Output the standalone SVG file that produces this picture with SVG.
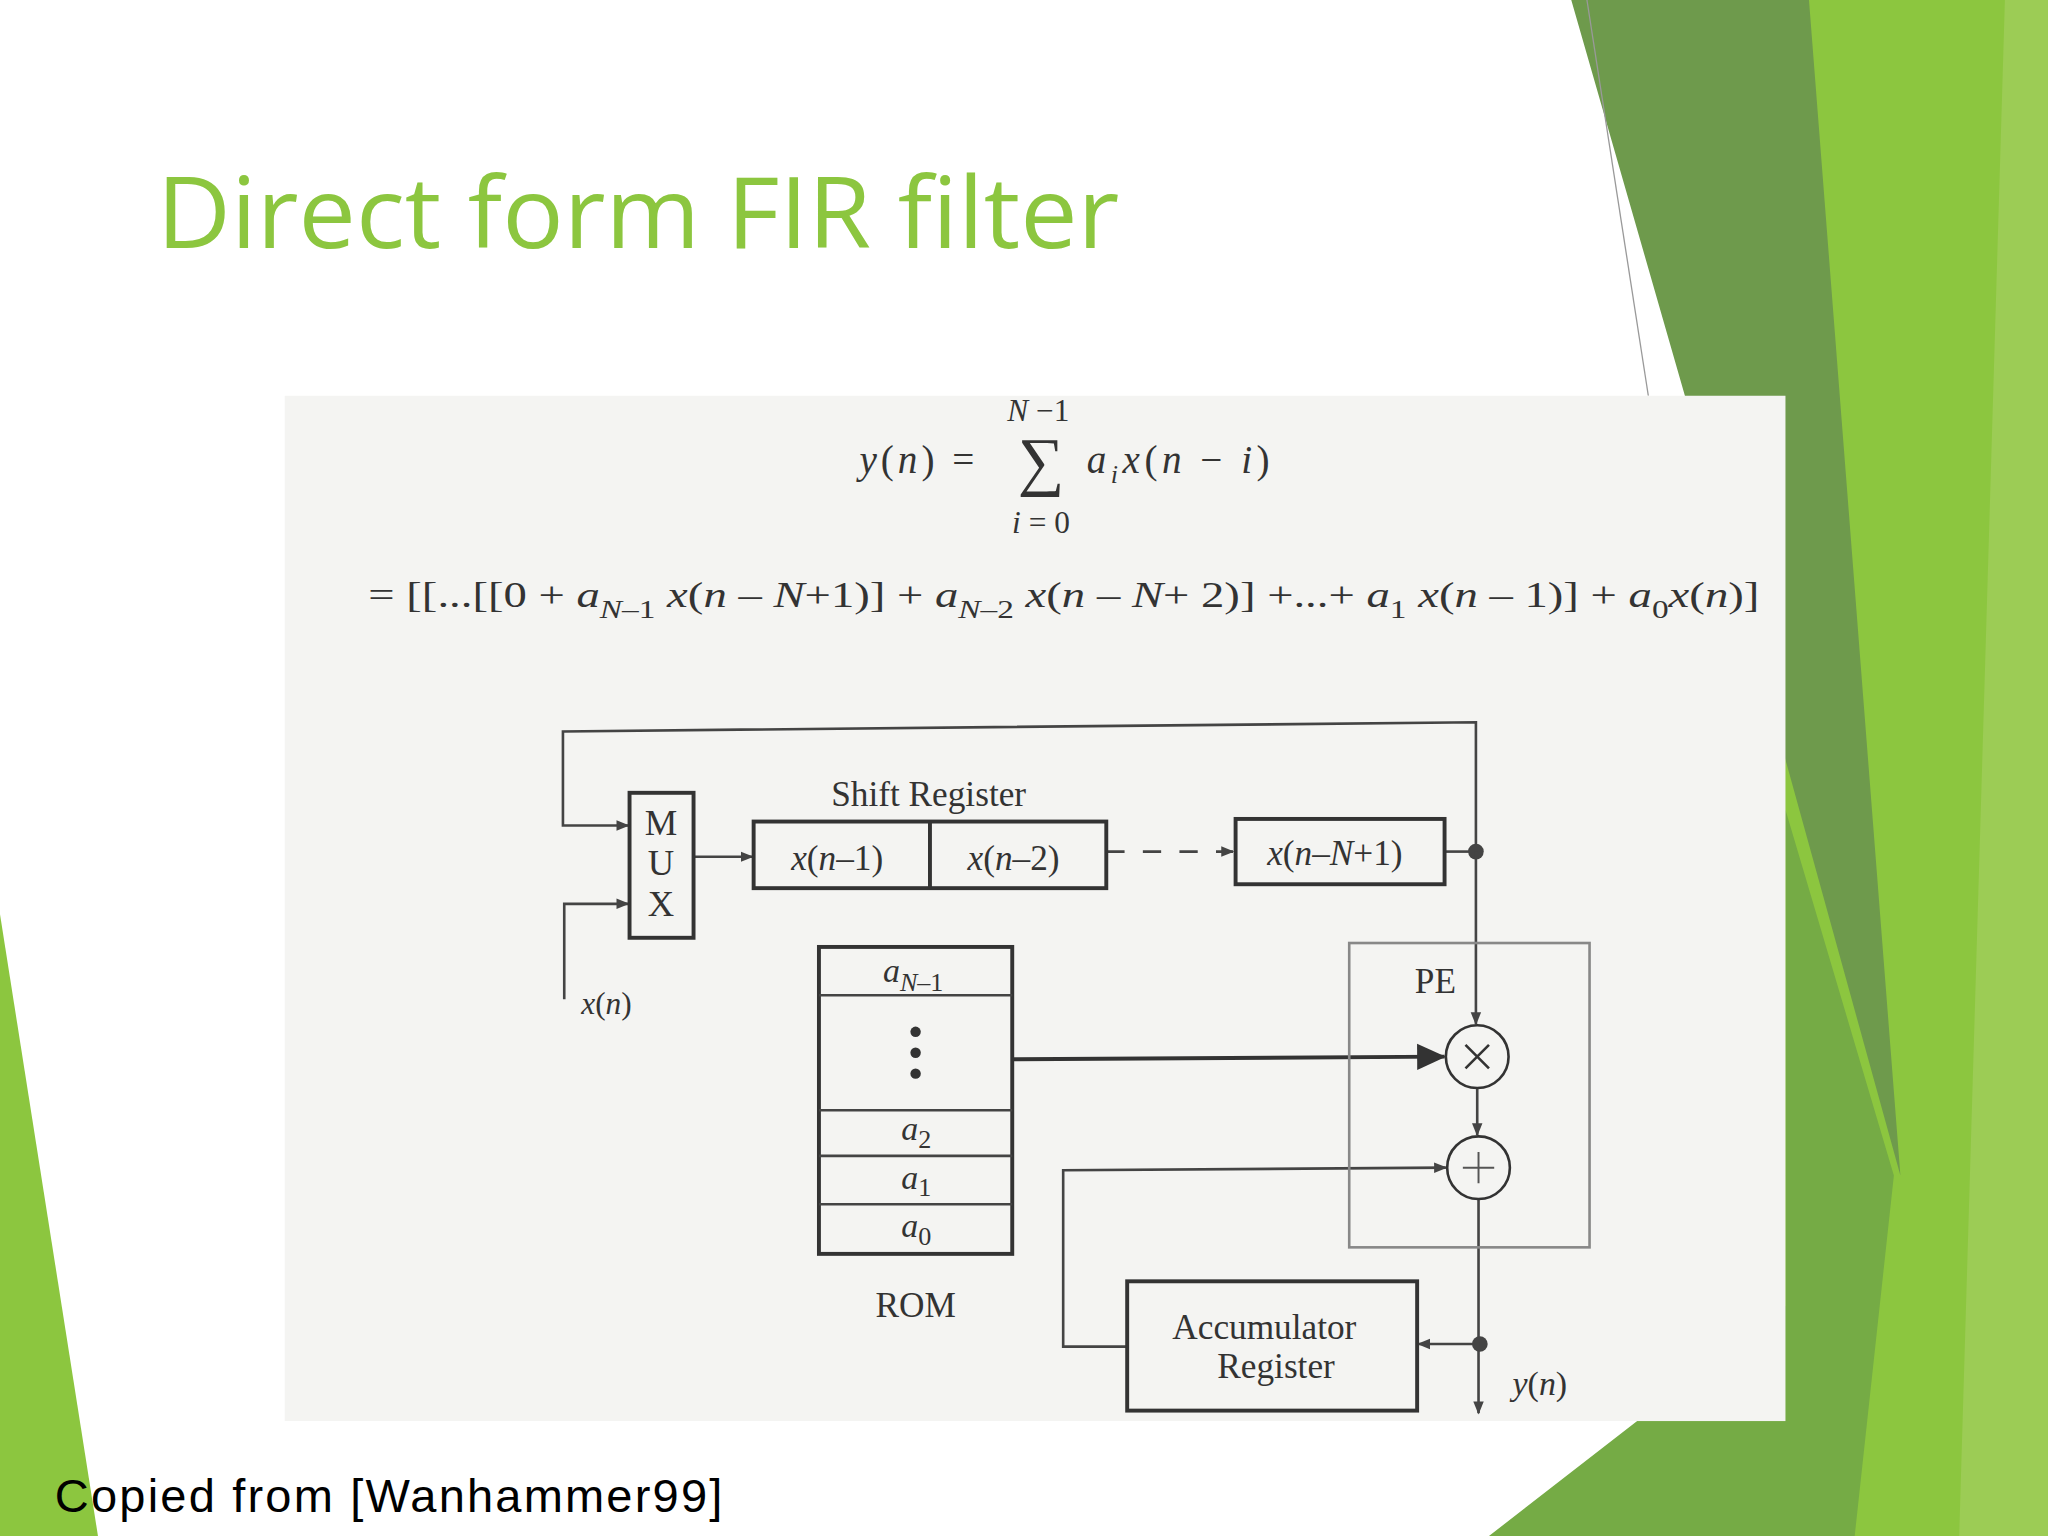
<svg xmlns="http://www.w3.org/2000/svg" width="2048" height="1536" viewBox="0 0 2048 1536">
<style>
.s{font-family:"Liberation Serif","DejaVu Serif",serif;fill:#333}
.i{font-style:italic}
.ln{stroke:#444;stroke-width:2;fill:none}
.bx{stroke:#333;stroke-width:3;fill:none}
</style>
<defs>
<marker id="ar" markerWidth="10" markerHeight="10" refX="9" refY="5" orient="auto" markerUnits="userSpaceOnUse"><path d="M0,1 L10,5 L0,9 Z" fill="#444"/></marker>
<marker id="big" markerWidth="22" markerHeight="22" refX="21" refY="11" orient="auto" markerUnits="userSpaceOnUse"><path d="M0,1 L22,11 L0,21 Z" fill="#333"/></marker>
</defs>
<rect width="2048" height="1536" fill="#fff"/>
<g transform="scale(1.30612)">
<g id="background">
<polygon points="1385,0 1568,0 1568,1176 1300,1176" fill="#8cc63f"/>
<polygon points="1535,0 1568,0 1568,1176 1500,1176" fill="#9ccc55"/>
<polygon points="1203,0 1385,0 1455,900 1290,303" fill="#6e9a4c"/>
<polygon points="1367,620 1450,900 1420,1176 1140,1176 1367,1000" fill="#75ab45"/>
<polygon points="0,700 75,1176 0,1176" fill="#8cc63f"/>
<line x1="1215" y1="0" x2="1262" y2="303" stroke="#999" stroke-width="1"/>
<rect x="218" y="303" width="1149" height="785" fill="#f4f4f2"/>
</g>
<text x="120" y="190" font-family="Open Sans,Liberation Sans,sans-serif" font-size="76" fill="#8cc63f" textLength="737" lengthAdjust="spacingAndGlyphs">Direct form FIR filter</text>
<g id="equation" class="s">
<text x="795" y="322" font-size="24" text-anchor="middle" class="s i">N<tspan font-style="normal"> −1</tspan></text>
<text x="658" y="362" font-size="30" class="s" textLength="88"><tspan font-style="italic">y</tspan>(<tspan font-style="italic">n</tspan>) =</text>
<text x="797" y="370" font-size="50" text-anchor="middle" class="s">∑</text>
<text x="832" y="362" font-size="30" class="s i" textLength="140">a<tspan font-size="20" dy="8">i</tspan><tspan dy="-8">x</tspan><tspan font-style="normal">(</tspan>n<tspan font-style="normal"> − </tspan>i<tspan font-style="normal">)</tspan></text>
<text x="797" y="408" font-size="24" text-anchor="middle" class="s"><tspan font-style="italic">i</tspan> = 0</text>
<text x="282" y="465" font-size="28" class="s" textLength="1065" lengthAdjust="spacingAndGlyphs">= [[...[[0 + <tspan font-style="italic">a</tspan><tspan font-size="20" dy="8" font-style="italic">N</tspan><tspan font-size="20">–1</tspan><tspan dy="-8" font-style="italic"> x</tspan>(<tspan font-style="italic">n</tspan> – <tspan font-style="italic">N</tspan>+1)] + <tspan font-style="italic">a</tspan><tspan font-size="20" dy="8" font-style="italic">N</tspan><tspan font-size="20">–2</tspan><tspan dy="-8" font-style="italic"> x</tspan>(<tspan font-style="italic">n</tspan> – <tspan font-style="italic">N</tspan>+ 2)] +...+ <tspan font-style="italic">a</tspan><tspan font-size="20" dy="8">1</tspan><tspan dy="-8" font-style="italic"> x</tspan>(<tspan font-style="italic">n</tspan> – 1)] + <tspan font-style="italic">a</tspan><tspan font-size="20" dy="8">0</tspan><tspan dy="-8" font-style="italic">x</tspan>(<tspan font-style="italic">n</tspan>)]</text>
</g>
<g id="connectors">
<polyline class="ln" points="1130,651 1130,553 431,560 431,632 481,632" marker-end="url(#ar)"/>
<polyline class="ln" points="432,765 432,692 481,692" marker-end="url(#ar)"/>
<line class="ln" x1="531" y1="656" x2="576" y2="656" marker-end="url(#ar)"/>
<line class="ln" x1="847" y1="652" x2="944" y2="652" stroke-dasharray="14,14" marker-end="url(#ar)"/>
<line class="ln" x1="1106" y1="652" x2="1130" y2="652"/>
<circle cx="1130" cy="652" r="6" fill="#444"/>
<line class="ln" x1="1130" y1="652" x2="1130" y2="784" marker-end="url(#ar)"/>
<line x1="775" y1="811" x2="1106" y2="809" stroke="#333" stroke-width="3" marker-end="url(#big)"/>
<line class="ln" x1="1131" y1="833" x2="1131" y2="869" marker-end="url(#ar)"/>
<line class="ln" x1="1132" y1="918" x2="1132" y2="1082" marker-end="url(#ar)"/>
<circle cx="1133" cy="1029" r="6" fill="#444"/>
<line class="ln" x1="1133" y1="1029" x2="1086" y2="1029" marker-end="url(#ar)"/>
<polyline class="ln" points="863,1031 814,1031 814,896 1107,894" marker-end="url(#ar)"/>
</g>
<g id="mux">
<rect class="bx" x="482" y="607" width="49" height="111"/>
<text class="s" font-size="28" text-anchor="middle"><tspan x="506" y="639">M</tspan><tspan x="506" y="670">U</tspan><tspan x="506" y="701">X</tspan></text>
<text class="s i" x="445" y="776" font-size="24">x<tspan font-style="normal">(</tspan>n<tspan font-style="normal">)</tspan></text>
</g>
<g id="shift-register">
<text class="s" x="711" y="617" font-size="27" text-anchor="middle">Shift Register</text>
<rect class="bx" x="577" y="629" width="270" height="51"/>
<line class="bx" x1="712" y1="629" x2="712" y2="680"/>
<text class="s i" x="641" y="666" font-size="27" text-anchor="middle">x<tspan font-style="normal">(</tspan>n<tspan font-style="normal">–1)</tspan></text>
<text class="s i" x="776" y="666" font-size="27" text-anchor="middle">x<tspan font-style="normal">(</tspan>n<tspan font-style="normal">–2)</tspan></text>
</g>
<g id="last-reg">
<rect class="bx" x="946" y="627" width="160" height="50"/>
<text class="s i" x="1022" y="662" font-size="27" text-anchor="middle">x<tspan font-style="normal">(</tspan>n<tspan font-style="normal">–</tspan>N<tspan font-style="normal">+1)</tspan></text>
</g>
<g id="rom">
<rect class="bx" x="627" y="725" width="148" height="235"/>
<line class="ln" x1="627" y1="762" x2="775" y2="762"/>
<line class="ln" x1="627" y1="850" x2="775" y2="850"/>
<line class="ln" x1="627" y1="885" x2="775" y2="885"/>
<line class="ln" x1="627" y1="922" x2="775" y2="922"/>
<text class="s i" x="676" y="752" font-size="26">a<tspan font-size="20" dy="7">N</tspan><tspan font-size="20" font-style="normal">–1</tspan></text>
<circle cx="701" cy="790" r="4" fill="#333"/><circle cx="701" cy="806" r="4" fill="#333"/><circle cx="701" cy="822" r="4" fill="#333"/>
<text class="s i" x="690" y="873" font-size="26">a<tspan font-size="20" dy="6" font-style="normal">2</tspan></text>
<text class="s i" x="690" y="910" font-size="26">a<tspan font-size="20" dy="6" font-style="normal">1</tspan></text>
<text class="s i" x="690" y="947" font-size="26">a<tspan font-size="20" dy="6" font-style="normal">0</tspan></text>
<text class="s" x="701" y="1008" font-size="27" text-anchor="middle">ROM</text>
</g>
<g id="pe">
<rect x="1033" y="722" width="184" height="233" fill="none" stroke="#888" stroke-width="2"/>
<text class="s" x="1099" y="760" font-size="27" text-anchor="middle">PE</text>
<circle cx="1131" cy="809" r="24" fill="none" stroke="#333" stroke-width="2"/>
<path d="M1122,800 L1140,818 M1140,800 L1122,818" stroke="#333" stroke-width="2"/>
<circle cx="1132" cy="894" r="24" fill="none" stroke="#333" stroke-width="2"/>
<path d="M1120,894 L1144,894 M1132,882 L1132,906" stroke="#555" stroke-width="1.5"/>
</g>
<g id="accumulator">
<rect class="bx" x="863" y="981" width="222" height="99"/>
<text class="s" x="968" y="1025" font-size="27" text-anchor="middle">Accumulator</text>
<text class="s" x="977" y="1055" font-size="27" text-anchor="middle">Register</text>
<text class="s i" x="1158" y="1068" font-size="26">y<tspan font-style="normal">(</tspan>n<tspan font-style="normal">)</tspan></text>
</g>
<text x="42" y="1158" font-family="Liberation Sans,Arial,sans-serif" font-size="36" fill="#000" textLength="511">Copied from [Wanhammer99]</text>
</g>
</svg>
